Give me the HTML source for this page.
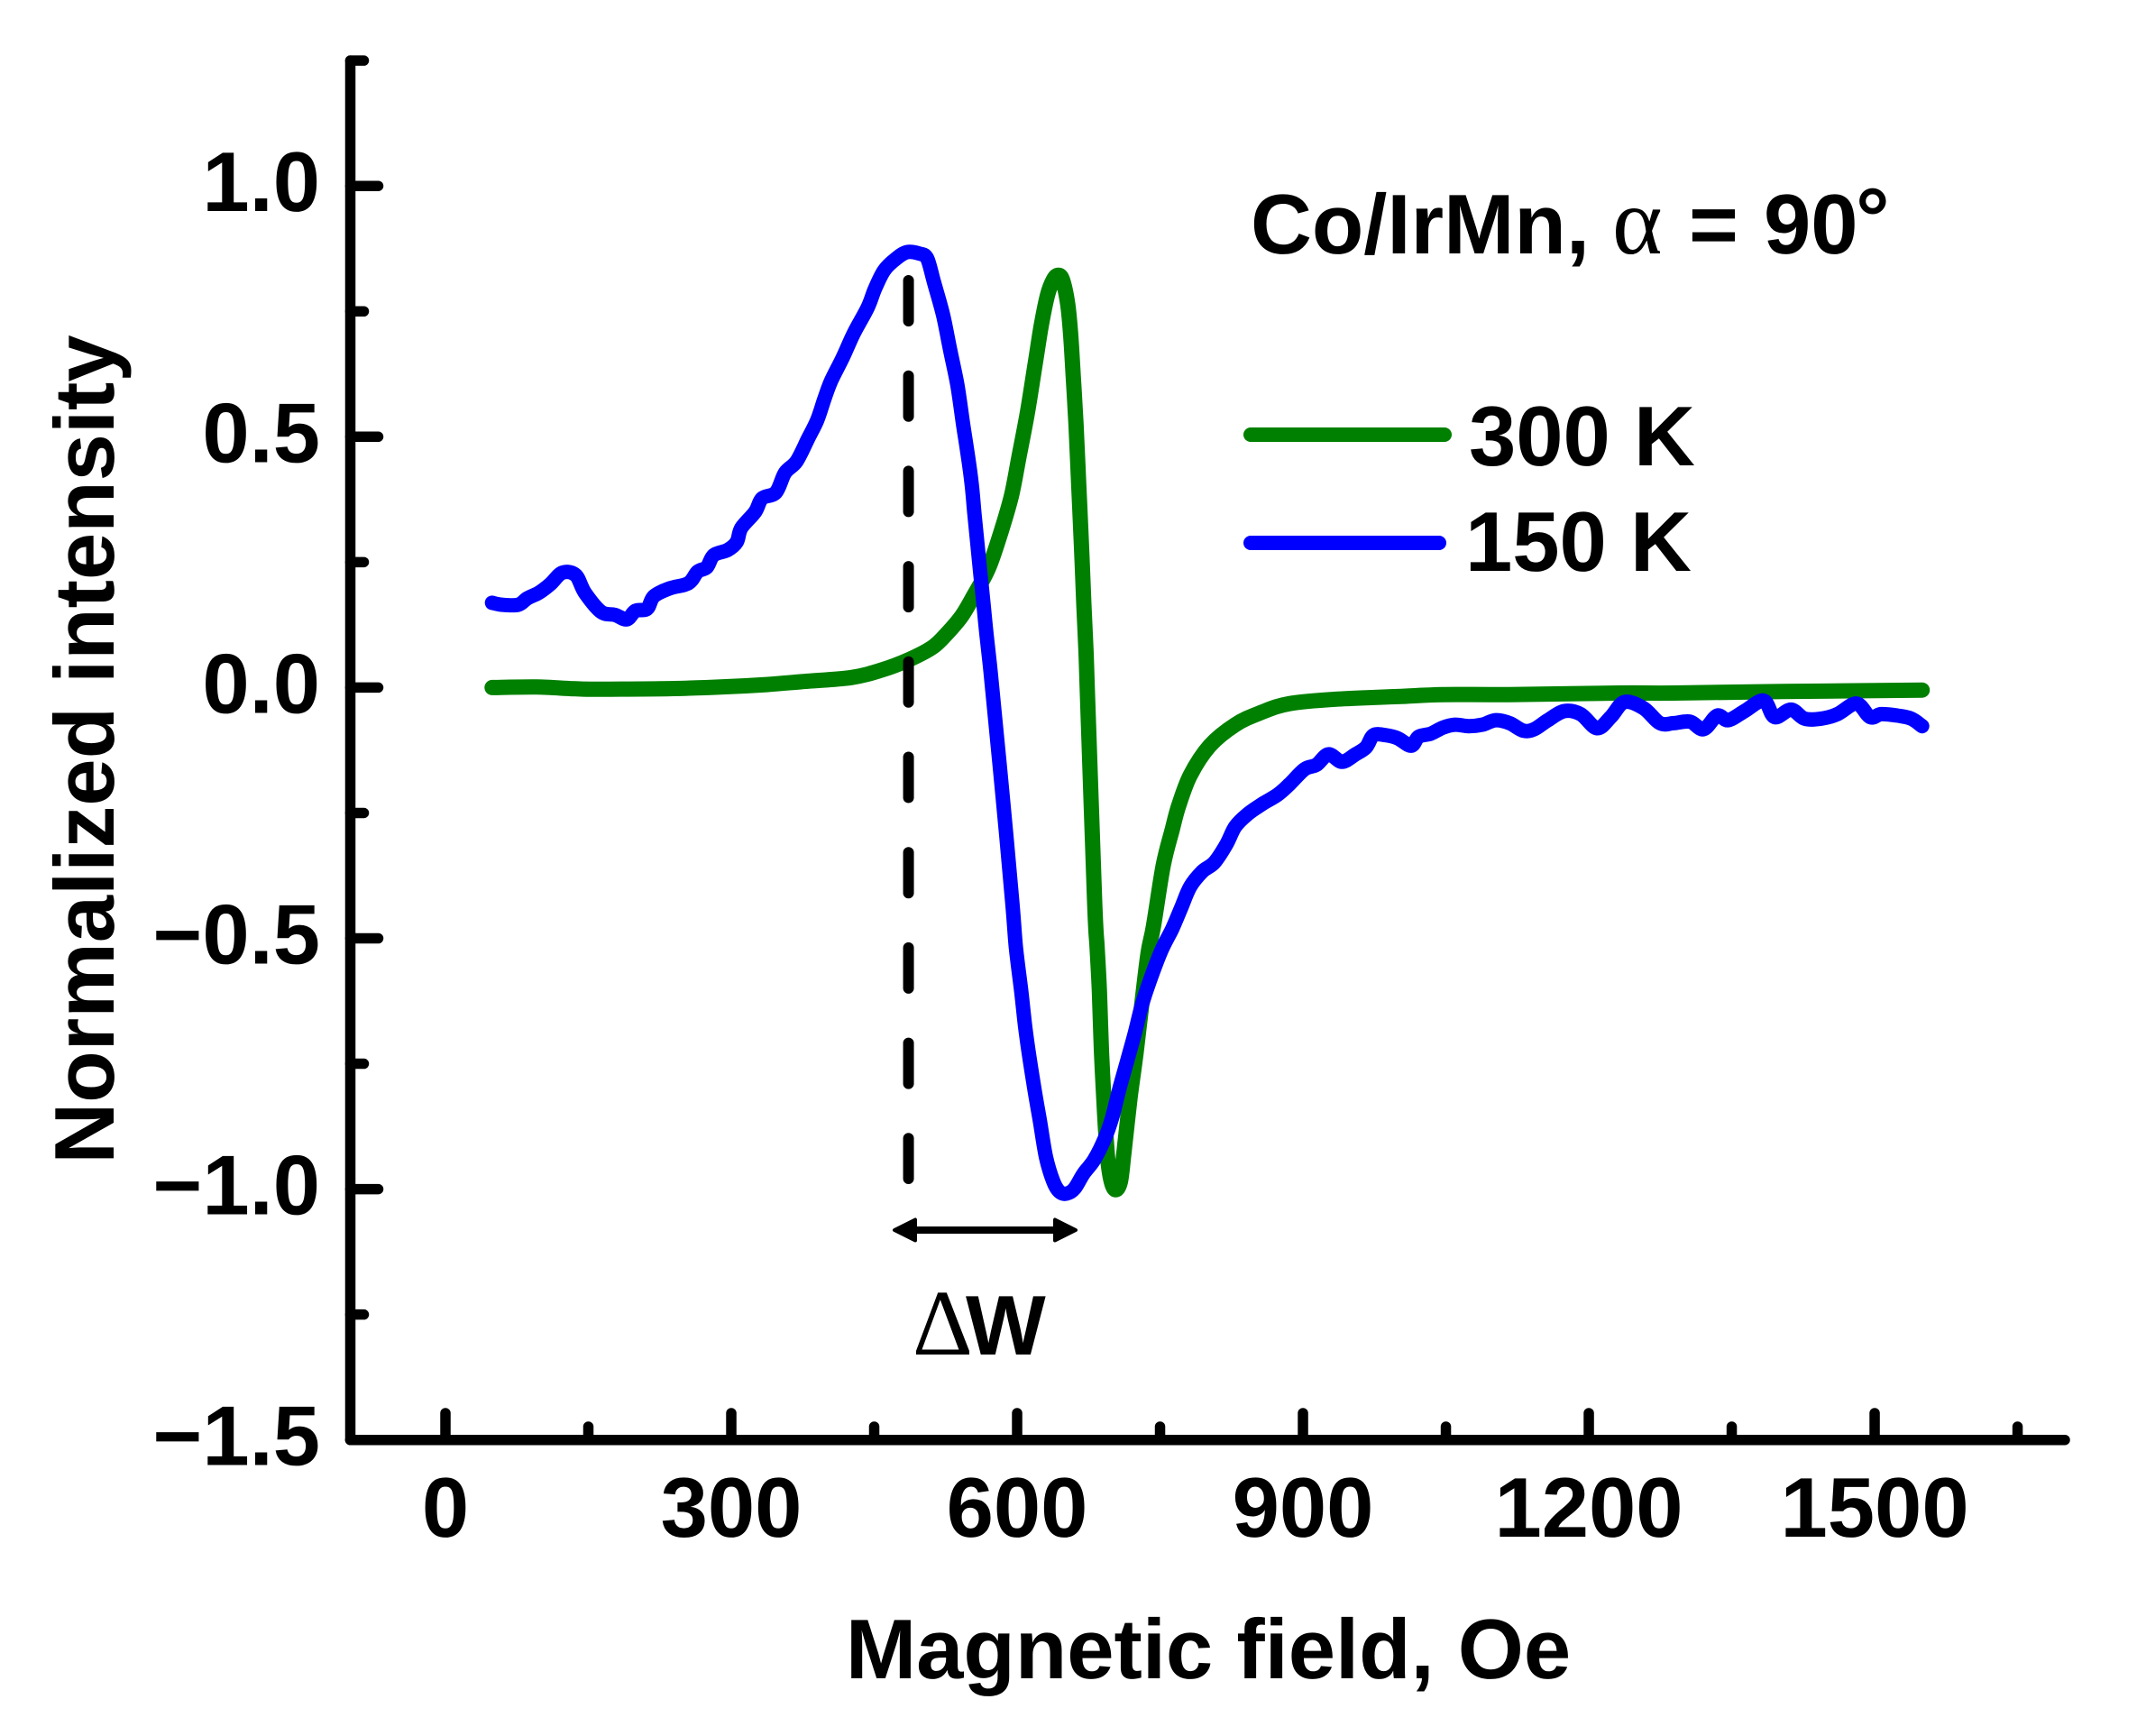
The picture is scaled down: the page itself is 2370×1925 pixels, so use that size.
<!DOCTYPE html>
<html lang="en">
<head>
<meta charset="utf-8">
<title>Normalized intensity vs magnetic field</title>
<style>
html,body{margin:0;padding:0;background:#fff;width:2370px;height:1925px;overflow:hidden}
svg{display:block}
text{font-family:"Liberation Sans",Arial,sans-serif;font-weight:bold;font-size:94px;fill:#000;text-rendering:geometricPrecision}
.sym{font-family:"Liberation Serif","Times New Roman",serif;font-weight:normal}
</style>
</head>
<body>
<svg id="chart" width="2370" height="1925" viewBox="0 0 2370 1925" xmlns="http://www.w3.org/2000/svg">
  <rect width="2370" height="1925" fill="#fff"/>
  <g id="axes"></g>
  <g id="series"></g>

  <text x="1340" y="1861" text-anchor="middle">Magnetic field, Oe</text>
  <text transform="translate(126 831) rotate(-90)" text-anchor="middle">Normalized intensity</text>

  <text x="1387" y="281">Co/IrMn,<tspan class="sym" x="1788" font-size="106" style="font-size:106px">α</tspan><tspan x="1873">=</tspan><tspan x="1956">90</tspan><tspan x="2058" dy="-7">°</tspan></text>

  <g>
    <line x1="1387" y1="482" x2="1602" y2="482" stroke="#008000" stroke-width="16" stroke-linecap="round"/>
    <text x="1629" y="516">300 K</text>
    <line x1="1387" y1="602" x2="1596" y2="602" stroke="#0000ff" stroke-width="16" stroke-linecap="round"/>
    <text x="1625" y="633">150 K</text>
  </g>

  <g>
    <line x1="1010" y1="1364" x2="1175" y2="1364" stroke="#000" stroke-width="8"/>
    <polygon points="992,1364 1015,1352.5 1015,1375.5" fill="#000" stroke="#000" stroke-width="4" stroke-linejoin="round"/>
    <polygon points="1193,1364 1170,1352.5 1170,1375.5" fill="#000" stroke="#000" stroke-width="4" stroke-linejoin="round"/>
    <text y="1502"><tspan class="sym" x="1012" style="font-size:104px">Δ</tspan><tspan x="1071">W</tspan></text>
  </g>
</svg>
<script>
// Tick values
var xMajorTicks = [0, 300, 600, 900, 1200, 1500];
var xMinorTicks = [150, 450, 750, 1050, 1350, 1650];
var yMajorTicks = [1.0, 0.5, 0.0, -0.5, -1.0, -1.5];
var yMinorTicks = [1.25, 0.75, 0.25, -0.25, -0.75, -1.25];
var xTickLabels = ["0", "300", "600", "900", "1200", "1500"];
var yTickLabels = ["1.0", "0.5", "0.0", "\u22120.5", "\u22121.0", "\u22121.5"];

// Marker of the 150 K peak field (Oe)
var dashedMarkerField = 486;

// 300 K series
var field300 = [49,96,144,192,240,289,337,376,426,458,487,511,526,542,555,570,583,594,602,611,619,625.5,632,638,643,647.6,653,656.1,659,661.8,664.6,667.5,670,672.2,673.8,681.4,683.9,686.4,688.6,691.8,694.9,698.7,703.4,708.5,712.3,718.6,724.9,731.2,737.5,743.2,753.3,762.8,769.7,781.7,802.2,829,855.8,885.8,936.3,999.3,1046.7,1116.9,1231.6,1288.9,1403.6,1549.8];
var intensity300 = [0,0.001,-0.003,-0.003,-0.002,0.001,0.006,0.012,0.02,0.035,0.056,0.08,0.107,0.143,0.185,0.238,0.31,0.382,0.46,0.55,0.646,0.724,0.783,0.813,0.822,0.813,0.766,0.706,0.616,0.526,0.406,0.286,0.167,0.077,-0.013,-0.427,-0.517,-0.607,-0.727,-0.847,-0.936,-0.984,-1.001,-0.984,-0.924,-0.817,-0.727,-0.625,-0.529,-0.475,-0.355,-0.283,-0.235,-0.175,-0.116,-0.074,-0.05,-0.032,-0.023,-0.018,-0.014,-0.014,-0.011,-0.011,-0.008,-0.005];

// 150 K series
var field150 = [48.9,59.5,76.4,86,98,110,122.7,136.7,146.4,163.3,177.8,190.3,199.5,211.6,218.8,235.7,255,264.7,274.3,281.6,296,305.7,310.5,325,332.3,346.8,356.4,368.5,380.5,390.2,397.5,404.7,416.8,428.8,443.3,450.6,460.2,472.3,484.4,497.8,505.7,512.9,522.4,530,537.2,543.2,547.6,552.3,555.2,558.3,561.5,564.7,567.8,571.3,574.4,584.5,594.9,598.7,604.4,609.4,617,623.9,630.3,637.8,644.4,651.7,660.2,669.7,680.7,691.8,699.6,707.5,715.4,723.3,731.2,740.7,751.7,762.8,772.2,781.7,794.3,806.9,819.5,829,841.6,857.4,873.2,885.8,901.5,914.2,926.8,940.9,955.2,966.2,974.1,986.7,999.3,1013.5,1021.4,1034,1046.7,1059.5,1073.9,1088.2,1102.5,1116.9,1131.2,1142.7,1157,1174.2,1191.4,1208.6,1223,1237.3,1257.4,1274.6,1288.9,1306.1,1320.4,1334.8,1346.3,1363.5,1383.5,1395,1412.2,1426.5,1443.7,1460.9,1481,1495.4,1506.8,1524,1538.4,1549.8];
var intensity150 = [0.169,0.165,0.165,0.178,0.189,0.206,0.229,0.224,0.189,0.151,0.145,0.136,0.153,0.157,0.182,0.198,0.208,0.231,0.24,0.264,0.274,0.29,0.318,0.35,0.377,0.389,0.428,0.451,0.496,0.533,0.574,0.611,0.657,0.707,0.758,0.794,0.831,0.854,0.868,0.865,0.855,0.807,0.742,0.67,0.604,0.526,0.472,0.406,0.346,0.286,0.226,0.167,0.107,0.047,-0.013,-0.21,-0.427,-0.517,-0.607,-0.691,-0.787,-0.864,-0.936,-0.984,-1.005,-1.009,-0.999,-0.969,-0.942,-0.9,-0.858,-0.799,-0.745,-0.691,-0.631,-0.577,-0.523,-0.481,-0.439,-0.397,-0.367,-0.349,-0.313,-0.277,-0.253,-0.232,-0.214,-0.193,-0.163,-0.154,-0.133,-0.148,-0.133,-0.119,-0.095,-0.095,-0.101,-0.116,-0.098,-0.092,-0.08,-0.074,-0.077,-0.074,-0.065,-0.071,-0.086,-0.083,-0.065,-0.047,-0.053,-0.081,-0.059,-0.029,-0.041,-0.071,-0.071,-0.068,-0.083,-0.056,-0.065,-0.047,-0.026,-0.059,-0.044,-0.062,-0.062,-0.053,-0.032,-0.059,-0.053,-0.056,-0.062,-0.077];

var SVG_NS = "http://www.w3.org/2000/svg";

function xScale(v) { return 494 + 1.0567 * v; }
function yScale(v) { return 762.4 - 556.2 * v; }

function make(tag, parent, attrs) {
  var el = document.createElementNS(SVG_NS, tag);
  for (var k in attrs) { el.setAttribute(k, attrs[k]); }
  parent.appendChild(el);
  return el;
}

var axes = document.getElementById("axes");
var seriesGroup = document.getElementById("series");

function tick(x1, y1, x2, y2, name) {
  var el = make("line", axes, { x1: x1, y1: y1, x2: x2, y2: y2, stroke: "#000", "stroke-width": 11.5, "stroke-linecap": "round" });
  
  
}

xMajorTicks.forEach(function (v) { tick(xScale(v), yScale(-1.5), xScale(v), 1567, "x-major-tick-" + v); });
xMinorTicks.forEach(function (v) { tick(xScale(v), yScale(-1.5), xScale(v), 1582, "x-minor-tick-" + v); });
yMajorTicks.forEach(function (v) { tick(388.5, yScale(v), 419.5, yScale(v), "y-major-tick"); });
yMinorTicks.forEach(function (v) { tick(388.5, yScale(v), 403.5, yScale(v), "y-minor-tick"); });

var yAxisLine = make("line", axes, { x1: 388.5, y1: yScale(1.25), x2: 388.5, y2: yScale(-1.5), stroke: "#000", "stroke-width": 11.5, "stroke-linecap": "round" });



var xAxisLine = make("line", axes, { x1: 388.5, y1: yScale(-1.5), x2: 2290, y2: yScale(-1.5), stroke: "#000", "stroke-width": 11.5, "stroke-linecap": "round" });



xMajorTicks.forEach(function (v, i) {
  var t = make("text", axes, { x: xScale(v), y: 1704, "text-anchor": "middle" });
  t.textContent = xTickLabels[i];
  
  
});
yMajorTicks.forEach(function (v, i) {
  var t = make("text", axes, { x: 355, y: yScale(v) + 28, "text-anchor": "end" });
  t.textContent = yTickLabels[i];
  
  
});

// Smooth curve through every data point (Catmull-Rom to cubic Bezier)
function smoothPath(xs, ys) {
  var px = xs.map(xScale);
  var py = ys.map(yScale);
  var n = px.length;
  var d = "M" + px[0].toFixed(1) + " " + py[0].toFixed(1);
  for (var i = 0; i < n - 1; i++) {
    var i0 = Math.max(i - 1, 0);
    var i3 = Math.min(i + 2, n - 1);
    var c1x = px[i] + (px[i + 1] - px[i0]) / 6;
    var c1y = py[i] + (py[i + 1] - py[i0]) / 6;
    var c2x = px[i + 1] - (px[i3] - px[i]) / 6;
    var c2y = py[i + 1] - (py[i3] - py[i]) / 6;
    d += "C" + c1x.toFixed(1) + " " + c1y.toFixed(1) + " " + c2x.toFixed(1) + " " + c2y.toFixed(1) + " " + px[i + 1].toFixed(1) + " " + py[i + 1].toFixed(1);
  }
  return d;
}

var line300 = make("path", seriesGroup, { d: smoothPath(field300, intensity300), fill: "none", stroke: "#008000", "stroke-width": 17, "stroke-linejoin": "round", "stroke-linecap": "round" });



var marker = make("line", seriesGroup, { x1: xScale(dashedMarkerField), y1: 311, x2: xScale(dashedMarkerField), y2: 1307, stroke: "#000", "stroke-width": 12, "stroke-linecap": "round", "stroke-dasharray": "45 60.7" });



var line150 = make("path", seriesGroup, { d: smoothPath(field150, intensity150), fill: "none", stroke: "#0000ff", "stroke-width": 16, "stroke-linejoin": "round", "stroke-linecap": "round" });


</script>
</body>
</html>
